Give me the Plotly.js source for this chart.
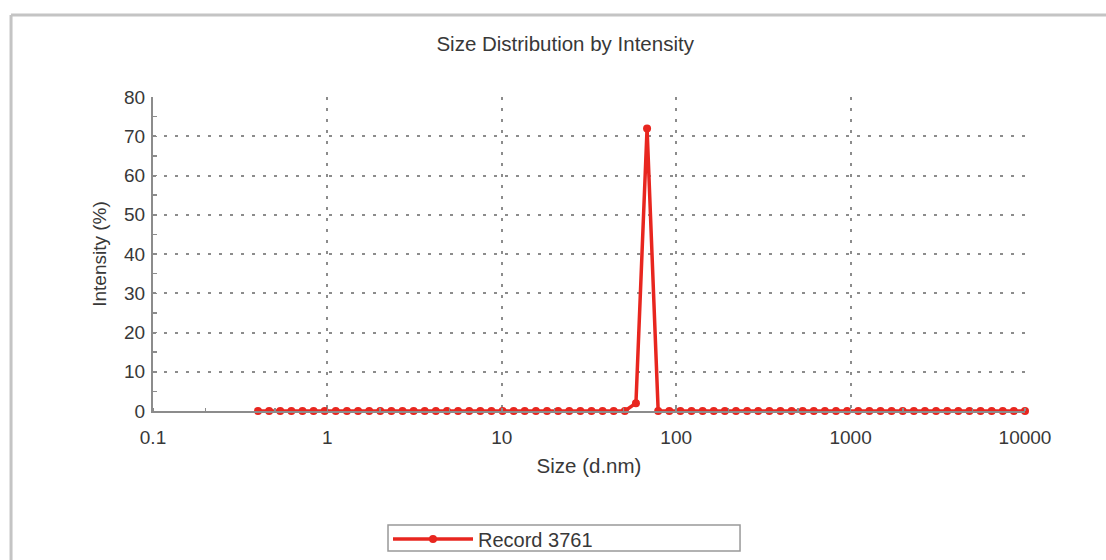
<!DOCTYPE html>
<html>
<head>
<meta charset="utf-8">
<script src="https://cdn.plot.ly/plotly-3.0.1.min.js"></script>
<style>html,body{margin:0;padding:0;background:#fff;}#chart{width:1106px;height:560px;}</style>
</head>
<body>
<div id="chart"></div>
<script>
// Size bins (d.nm)
var sizes = [0.4, 0.4632, 0.5365, 0.6213, 0.7195, 0.8332, 0.9649, 1.117, 1.294, 1.499,
  1.736, 2.01, 2.328, 2.696, 3.122, 3.615, 4.187, 4.849, 5.615, 6.503,
  7.531, 8.721, 10.1, 11.7, 13.54, 15.69, 18.17, 21.04, 24.36, 28.21,
  32.67, 37.84, 43.82, 50.75, 58.77, 68.06, 78.82, 91.28, 105.7, 122.4,
  141.8, 164.2, 190.1, 220.2, 255.0, 295.3, 342.0, 396.1, 458.7, 531.2,
  615.1, 712.4, 825.0, 955.4, 1106, 1281, 1484, 1718, 1990, 2305,
  2669, 3091, 3580, 4145, 4801, 5560, 6439, 7456, 8635, 10000];
// Intensity (%)
var intensity = [0, 0, 0, 0, 0, 0, 0, 0, 0, 0,
  0, 0, 0, 0, 0, 0, 0, 0, 0, 0,
  0, 0, 0, 0, 0, 0, 0, 0, 0, 0,
  0, 0, 0, 0, 2.0, 72.0, 0, 0, 0, 0,
  0, 0, 0, 0, 0, 0, 0, 0, 0, 0,
  0, 0, 0, 0, 0, 0, 0, 0, 0, 0,
  0, 0, 0, 0, 0, 0, 0, 0, 0, 0];
var seriesName = "Record 3761";
var xTickVals = [0.1, 1, 10, 100, 1000, 10000];
var xTickText = ["0.1", "1", "10", "100", "1000", "10000"];
var yTickVals = [0, 10, 20, 30, 40, 50, 60, 70, 80];

var red = "#e8261f";
var grey = "#8c8c8c";
var txt = "#383838";
var trace = {
  x: sizes, y: intensity, name: seriesName,
  type: "scatter", mode: "lines+markers",
  line: {color: red, width: 3.5},
  marker: {color: red, size: 8},
  cliponaxis: false
};

var layout = {
  width: 1106, height: 560,
  margin: {l: 153, r: 81, t: 97, b: 149},
  paper_bgcolor: "#fff", plot_bgcolor: "#fff",
  font: {family: "Liberation Sans, Arial, sans-serif", color: txt, size: 19},
  showlegend: true,
  title: {text: "Size Distribution by Intensity", xref: "container", x: 0.511, xanchor: "center",
          yref: "container", y: 1 - 44/560, yanchor: "middle",
          font: {size: 20.5, color: txt}},
  xaxis: {
    type: "log", range: [-1, 4], automargin: false,
    tickvals: xTickVals, ticktext: xTickText,
    showgrid: true, gridcolor: grey, griddash: "3px,8px", gridwidth: 2,
    showline: true, linecolor: grey, linewidth: 2,
    ticks: "", ticklabelstandoff: 8, tickfont: {size: 19, color: txt},
    minor: {ticks: "inside", ticklen: 3, tickcolor: grey, tickwidth: 1.5, showgrid: false},
    zeroline: false,
    title: {text: "Size (d.nm)", standoff: 12, font: {size: 20.5, color: txt}}
  },
  yaxis: {
    range: [0, 80], tickvals: yTickVals, automargin: false,
    showgrid: true, gridcolor: grey, griddash: "3px,8px", gridwidth: 2,
    showline: true, linecolor: grey, linewidth: 2,
    ticks: "inside", ticklen: 4, tickcolor: grey, tickwidth: 1.5,
    minor: {dtick: 5, ticks: "inside", ticklen: 4, tickcolor: grey, tickwidth: 1.5, showgrid: false},
    tickfont: {size: 19, color: txt}, ticklabelstandoff: 2,
    zeroline: false,
    title: {text: "Intensity (%)", standoff: 12, font: {size: 19, color: txt}}
  },
  legend: {
    orientation: "h", xref: "container", x: 388/1106, xanchor: "left",
    yref: "container", y: 1 - 539/560, yanchor: "middle",
    borderwidth: 0, bgcolor: "rgba(0,0,0,0)",
    itemwidth: 80,
    font: {size: 20, color: txt}
  },
  shapes: [
    {type: "line", xref: "paper", yref: "paper", x0: -0.1628, x1: -0.1628, y0: 1.2611, y1: -0.48,
     line: {color: "#c4c4c4", width: 3}},
    {type: "line", xref: "paper", yref: "paper", x0: -0.1628, x1: 1.1, y0: 1.2611, y1: 1.2611,
     line: {color: "#c4c4c4", width: 3}},
    // legend frame
    {type: "rect", xref: "paper", yref: "paper", x0: 0.2695, x1: 0.6732, y0: -0.3631, y1: -0.4459,
     line: {color: "#999", width: 1.5}, fillcolor: "rgba(0,0,0,0)"}
  ]
};

Plotly.newPlot("chart", [trace], layout, {displayModeBar: false, staticPlot: true});
</script>
</body>
</html>
